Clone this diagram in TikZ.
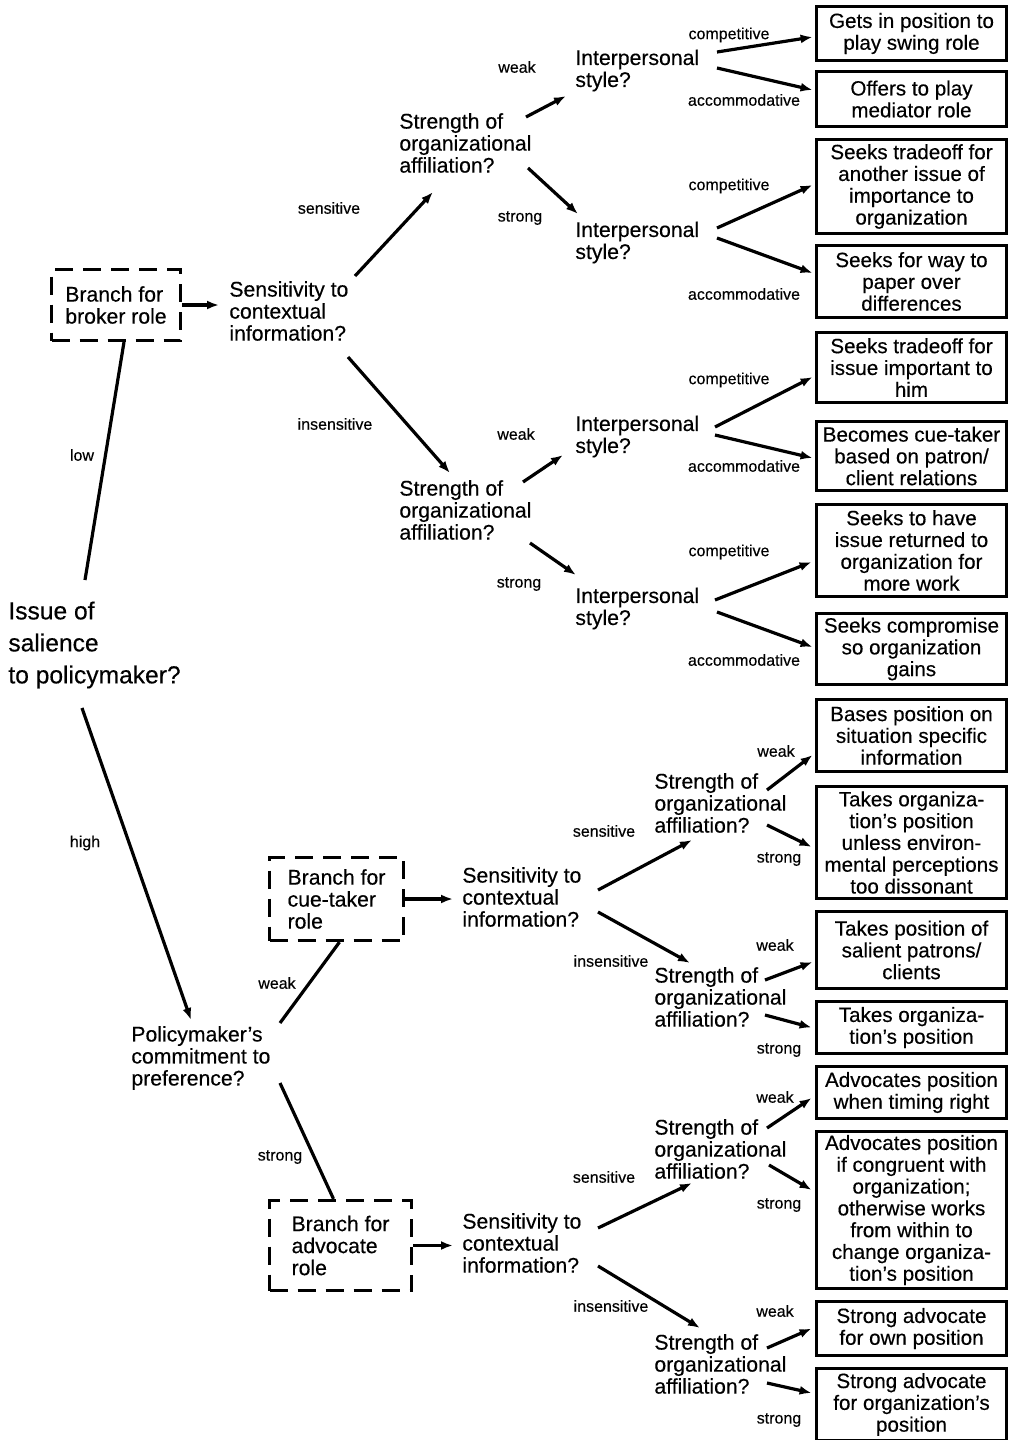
\documentclass[tikz,border=0pt]{standalone}
\usepackage{fontspec}
\setmainfont{Liberation Sans}[FakeBold=0.35]
\usetikzlibrary{arrows.meta,calc}
\tikzset{
  qtext/.style={anchor=west, align=left, inner sep=0pt, font=\fontsize{10.6}{11}\selectfont},
  bigq/.style={anchor=west, align=left, inner sep=0pt, font=\fontsize{12.3}{16}\selectfont},
  lbl/.style={inner sep=0pt, font=\fontsize{8}{9.6}\selectfont},
  outbox/.style={draw, line width=1.9pt, align=center, minimum width=95pt, inner sep=1pt,
    font=\fontsize{10.3}{10.9}\selectfont},
  branchbox/.style={draw, line width=1.6pt, dash pattern=on 9pt off 5pt, align=left,
    inner sep=0pt, font=\fontsize{10.6}{11}\selectfont},
  arr/.style={-{Latex[length=6pt,width=4.5pt]}, line width=1.6pt},
  ln/.style={line width=1.6pt}
}
\begin{document}
\begin{tikzpicture}[x=0.5pt,y=-0.5pt]
  \useasboundingbox (0,0) rectangle (1014,1440);
  % question nodes
  \node[bigq] (issue) at (8,645) {Issue of\\salience\\to policymaker?};
  \node[branchbox, minimum width=64.5pt, minimum height=35.5pt] (broker) at (116,305) {Branch for\\broker role};
  \node[qtext] (sens1) at (229,311) {Sensitivity to\\contextual\\information?};
  \node[qtext] (str1) at (399,143) {Strength of\\organizational\\affiliation?};
  \node[qtext] (str2) at (399,510) {Strength of\\organizational\\affiliation?};
  \node[qtext] (int1) at (575,70.5) {Interpersonal\\style?};
  \node[qtext] (int2) at (575,242.5) {Interpersonal\\style?};
  \node[qtext] (int3) at (575,436.5) {Interpersonal\\style?};
  \node[qtext] (int4) at (575,608.5) {Interpersonal\\style?};
  \node[qtext] (pol) at (131,1058) {Policymaker's\\commitment to\\preference?};
  \node[branchbox, minimum width=67pt, minimum height=41.5pt] (cue) at (336.5,899) {Branch for\\cue-taker\\role};
  \node[branchbox, minimum width=71pt, minimum height=45pt] (adv) at (340.5,1245.5) {Branch for\\advocate\\role};
  \node[qtext] (sens2) at (462,897) {Sensitivity to\\contextual\\information?};
  \node[qtext] (sens3) at (462,1243) {Sensitivity to\\contextual\\information?};
  \node[qtext] (str3) at (654,803) {Strength of\\organizational\\affiliation?};
  \node[qtext] (str4) at (654,997) {Strength of\\organizational\\affiliation?};
  \node[qtext] (str5) at (654,1149) {Strength of\\organizational\\affiliation?};
  \node[qtext] (str6) at (654,1364) {Strength of\\organizational\\affiliation?};
  % outcome boxes
  \node[outbox, minimum height=27pt] (o1) at (911.5,33.5) {Gets in position to\\play swing role};
  \node[outbox, minimum height=27.5pt] (o2) at (911.5,99) {Offers to play\\mediator role};
  \node[outbox, minimum height=47pt] (o3) at (911.5,186.5) {Seeks tradeoff for\\another issue of\\importance to\\organization};
  \node[outbox, minimum height=36pt] (o4) at (911.5,281.5) {Seeks for way to\\paper over\\differences};
  \node[outbox, minimum height=35pt] (o5) at (911.5,367.5) {Seeks tradeoff for\\issue important to\\him};
  \node[outbox, minimum height=34.5pt] (o6) at (911.5,456) {Becomes cue-taker\\based on patron/\\client relations};
  \node[outbox, minimum height=46pt] (o7) at (911.5,550.5) {Seeks to have\\issue returned to\\organization for\\more work};
  \node[outbox, minimum height=35.5pt] (o8) at (911.5,649) {Seeks compromise\\so organization\\gains};
  \node[outbox, minimum height=36pt] (o9) at (911.5,735.5) {Bases position on\\situation specific\\information};
  \node[outbox, minimum height=56pt] (o10) at (911.5,842.5) {Takes organiza-\\tion's position\\unless environ-\\mental perceptions\\too dissonant};
  \node[outbox, minimum height=38.5pt] (o11) at (911.5,950) {Takes position of\\salient patrons/\\clients};
  \node[outbox, minimum height=26pt] (o12) at (911.5,1027.5) {Takes organiza-\\tion's position};
  \node[outbox, minimum height=26pt] (o13) at (911.5,1092.5) {Advocates position\\when timing right};
  \node[outbox, minimum height=78.5pt] (o14) at (911.5,1210) {Advocates position\\if congruent with\\organization;\\otherwise works\\from within to\\change organiza-\\tion's position};
  \node[outbox, minimum height=27pt] (o15) at (911.5,1328.5) {Strong advocate\\for own position};
  \node[outbox, minimum height=36pt] (o16) at (911.5,1404.5) {Strong advocate\\for organization's\\position};
  % branch labels
  \node[lbl] (l-low) at (82,455) {low};
  \node[lbl] (l-high) at (85,843) {high};
  \node[lbl] (l-cue) at (277,983) {weak};
  \node[lbl] (l-adv) at (280,1157) {strong};
  \node[lbl] (l-s1) at (329,208) {sensitive};
  \node[lbl] (l-i1) at (335,424) {insensitive};
  \node[lbl] (l-w1) at (517,67) {weak};
  \node[lbl] (l-g1) at (520,218) {strong};
  \node[lbl] (l-w2) at (516,434) {weak};
  \node[lbl] (l-g2) at (519,584) {strong};
  \node[lbl] (l-c1) at (729,35) {competitive};
  \node[lbl] (l-a1) at (744,100) {accommodative};
  \node[lbl] (l-c2) at (729,186) {competitive};
  \node[lbl] (l-a2) at (744,294) {accommodative};
  \node[lbl] (l-c3) at (729,380) {competitive};
  \node[lbl] (l-a3) at (744,466) {accommodative};
  \node[lbl] (l-c4) at (729,552) {competitive};
  \node[lbl] (l-a4) at (744,660) {accommodative};
  \node[lbl] (l-s2) at (604,831) {sensitive};
  \node[lbl] (l-i2) at (611,961) {insensitive};
  \node[lbl] (l-w3) at (776,751) {weak};
  \node[lbl] (l-g3) at (779,859) {strong};
  \node[lbl] (l-w4) at (775,945) {weak};
  \node[lbl] (l-g4) at (779,1050) {strong};
  \node[lbl] (l-s3) at (604,1177) {sensitive};
  \node[lbl] (l-i3) at (611,1306) {insensitive};
  \node[lbl] (l-w5) at (775,1097) {weak};
  \node[lbl] (l-g5) at (779,1205) {strong};
  \node[lbl] (l-w6) at (775,1311) {weak};
  \node[lbl] (l-g6) at (779,1420) {strong};
  % salience and commitment
  \draw[ln] ($(broker.south)+(8,0)$) -- ($(issue.west)+(77,-65)$);
  \draw[arr] ($(issue.west)+(74,63)$) -- ($(pol.west)+(60,-38)$);
  \draw[ln] ($(pol.west)+(149,-35)$) -- ($(cue.south)+(3,0)$);
  \draw[ln] ($(pol.west)+(149,25)$) -- ($(adv.north)+(-7,0)$);
  \draw[arr,shorten >=5pt] (broker.east) -- (broker.east -| sens1.west);
  \draw[arr,shorten >=4.5pt] (cue.east) -- (cue.east -| sens2.west);
  \draw[arr,shorten >=4.5pt] (adv.east) -- (adv.east -| sens3.west);
  % broker branch
  \draw[arr] ($(sens1.west)+(126,-35)$) -- ($(str1.west)+(34,49)$);
  \draw[arr] ($(sens1.west)+(119,46)$) -- ($(str2.west)+(51,-37)$);
  \draw[arr] ($(str1.west)+(127,-26)$) -- ($(int1.west)+(-9,25.5)$);
  \draw[arr] ($(str1.west)+(129,25)$) -- ($(int2.west)+(3,-28.5)$);
  \draw[arr] ($(str2.west)+(124,-28)$) -- ($(int3.west)+(-12,18.5)$);
  \draw[arr] ($(str2.west)+(131,33)$) -- ($(int4.west)+(1,-33.5)$);
  \draw[arr] ($(int1.west)+(142,-18.5)$) -- ($(o1.west)+(-2,3.5)$);
  \draw[arr] ($(int1.west)+(142,-2.5)$) -- ($(o2.west)+(-2,-9)$);
  \draw[arr] ($(int2.west)+(142,-14.5)$) -- ($(o3.west)+(-2,-1.5)$);
  \draw[arr] ($(int2.west)+(142,-4.5)$) -- ($(o4.west)+(-2,-8.5)$);
  \draw[arr] ($(int3.west)+(140,-9.5)$) -- ($(o5.west)+(-2,9.5)$);
  \draw[arr] ($(int3.west)+(140,-1.5)$) -- ($(o6.west)+(-2,2)$);
  \draw[arr] ($(int4.west)+(140,-8.5)$) -- ($(o7.west)+(-3,11.5)$);
  \draw[arr] ($(int4.west)+(142,3.5)$) -- ($(o8.west)+(-2,-2)$);
  % cue-taker branch
  \draw[arr] ($(sens2.west)+(136,-7)$) -- ($(str3.west)+(38,37)$);
  \draw[arr] ($(sens2.west)+(136,15)$) -- ($(str4.west)+(36,-34)$);
  \draw[arr] ($(str3.west)+(113,-13)$) -- ($(o9.west)+(-2,19.5)$);
  \draw[arr] ($(str3.west)+(113,22)$) -- ($(o10.west)+(-3,4.5)$);
  \draw[arr] ($(str4.west)+(111,-17)$) -- ($(o11.west)+(-2,12)$);
  \draw[arr] ($(str4.west)+(111,18)$) -- ($(o12.west)+(-3,0)$);
  % advocate branch
  \draw[arr] ($(sens3.west)+(136,-15)$) -- ($(str5.west)+(38,34)$);
  \draw[arr] ($(sens3.west)+(136,23)$) -- ($(str6.west)+(46,-36)$);
  \draw[arr] ($(str5.west)+(113,-21)$) -- ($(o13.west)+(-3,5.5)$);
  \draw[arr] ($(str5.west)+(115,16)$) -- ($(o14.west)+(-3,-20)$);
  \draw[arr] ($(str6.west)+(113,-16)$) -- ($(o15.west)+(-3,0)$);
  \draw[arr] ($(str6.west)+(113,19)$) -- ($(o16.west)+(-3,-11.5)$);
\end{tikzpicture}
\end{document}
